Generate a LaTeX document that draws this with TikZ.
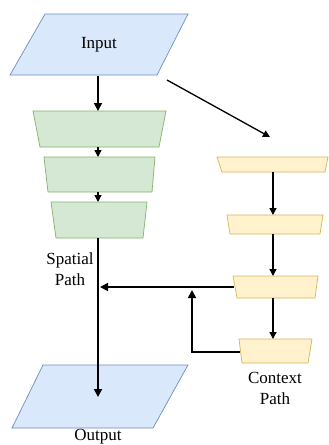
\documentclass[tikz,border=0pt]{standalone}
\usepackage{fontspec}
\setmainfont{Liberation Serif}
\usetikzlibrary{arrows.meta}
\definecolor{blueF}{HTML}{DAE8FC}
\definecolor{blueD}{HTML}{6C8EBF}
\definecolor{greenF}{HTML}{D5E8D4}
\definecolor{greenD}{HTML}{82B366}
\definecolor{orangeF}{HTML}{FFF2CC}
\definecolor{orangeD}{HTML}{D6B656}
\begin{document}
\begin{tikzpicture}[x=1pt,y=-1pt,
  blueshape/.style={fill=blueF,draw=blueD,line width=0.7pt},
  greenshape/.style={fill=greenF,draw=greenD,line width=0.7pt},
  orangeshape/.style={fill=orangeF,draw=orangeD,line width=0.7pt},
  arr/.style={draw=black,line width=1.3pt,-{Triangle[length=7pt,width=7pt]}},
  thickarr/.style={draw=black,line width=1.7pt,-{Triangle[length=8pt,width=8pt]}},
  lbl/.style={font=\fontsize{17}{21}\selectfont,align=center,inner sep=0pt}]
\useasboundingbox (0,0) rectangle (329,445);
% Input
\filldraw[blueshape] (45,14) -- (188,14) -- (157,75) -- (10,75) -- cycle;
\node[lbl] (input) at (99,45) {Input};
\coordinate (inB) at (98,76);
\coordinate (inD) at (167,80);
% Spatial path
\filldraw[greenshape] (33,111) -- (166,111) -- (159,147) -- (40,147) -- cycle;
\coordinate (g1T) at (98,111); \coordinate (g1B) at (98,147);
\filldraw[greenshape] (44,157) -- (155,157) -- (152,192) -- (48,192) -- cycle;
\coordinate (g2T) at (98,157); \coordinate (g2B) at (98,192);
\filldraw[greenshape] (51,202) -- (147,202) -- (143,238) -- (56,238) -- cycle;
\coordinate (g3T) at (98,202); \coordinate (g3B) at (98,238);
\node[lbl] (spatial) at (70,269) {Spatial\\Path};
% Output
\filldraw[blueshape] (43,365) -- (188,365) -- (153,428) -- (12,428) -- cycle;
\coordinate (outT) at (98,397);
\node[lbl] (output) at (98,437) {Output};
\coordinate (sp) at (100,287);
% Context path
\filldraw[orangeshape] (217,157) -- (328,157) -- (325,172) -- (222,172) -- cycle;
\coordinate (c1T) at (273,157); \coordinate (c1B) at (273,172);
\filldraw[orangeshape] (227,215) -- (323,215) -- (320,234) -- (230,234) -- cycle;
\coordinate (c2T) at (273,215); \coordinate (c2B) at (273,234);
\filldraw[orangeshape] (233,276) -- (318,276) -- (315,298) -- (237,298) -- cycle;
\coordinate (c3T) at (273,276); \coordinate (c3B) at (273,298); \coordinate (c3L) at (234,287);
\filldraw[orangeshape] (239,339) -- (312,339) -- (308,363) -- (242,363) -- cycle;
\coordinate (c4T) at (273,339); \coordinate (c4L) at (240,352);
\node[lbl] (context) at (275,388) {Context\\Path};
\coordinate (diagEnd) at (270,137);
\coordinate (bend) at (192,352);
\coordinate (bendEnd) at (192,290);
% Connectors
\draw[thickarr] (inB) -- (g1T);
\draw[arr] (g1B) -- (g2T);
\draw[arr] (g2B) -- (g3T);
\draw[thickarr] (g3B) -- (outT);
\draw[arr] (inD) -- (diagEnd);
\draw[arr] (c1B) -- (c2T);
\draw[arr] (c2B) -- (c3T);
\draw[arr] (c3B) -- (c4T);
\draw[thickarr] (c3L) -- (sp);
\draw[thickarr] (c4L) -- (bend) -- (bendEnd);
\end{tikzpicture}
\end{document}
